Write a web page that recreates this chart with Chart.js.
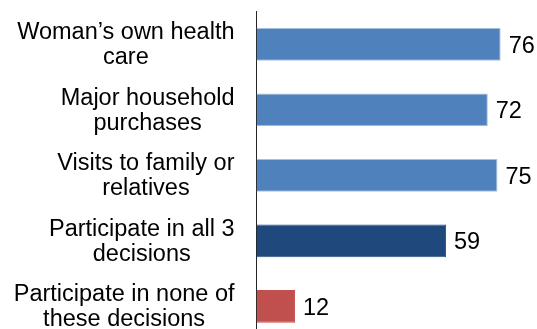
<!DOCTYPE html>
<html>
<head>
<meta charset="utf-8">
<script src="https://cdn.jsdelivr.net/npm/chart.js@4"></script>
<style>
  html, body { margin: 0; padding: 0; background: #fff; overflow: hidden; }
  #wrap { width: 537px; height: 340px; position: relative; }
</style>
</head>
<body>
<div id="wrap"><canvas id="mychart"></canvas></div>
<script>
const categories = [
    ['Woman\u2019s own health', 'care'],
    ['Major household', 'purchases'],
    ['Visits to family or', 'relatives'],
    ['Participate in all 3', 'decisions'],
    ['Participate in none of', 'these decisions']
]
const values = [76, 72, 75, 59, 12]
const barColors = ['#4F81BD', '#4F81BD', '#4F81BD', '#1F497D', '#C0504D']
const edgeColors = ['#A7BFDE', '#A7BFDE', '#A7BFDE', '#2C5486', '#C0504D']

const labelFont = '23.5px "Liberation Sans", Arial, sans-serif'

// category labels: block right aligned, lines centered inside the block
const catLabels = {
    id: 'catLabels',
    afterDraw(chart) {
        const ctx = chart.ctx
        const y = chart.scales.y
        const right = y.right - 22
        ctx.save()
        ctx.font = labelFont
        ctx.fillStyle = '#000'
        ctx.textAlign = 'center'
        ctx.textBaseline = 'middle'
        categories.forEach((lines, i) => {
            const cy = y.getPixelForValue(i) + 1
            const w = Math.max(...lines.map(l => ctx.measureText(l).width))
            const cx = right - w / 2
            const lh = 25
            lines.forEach((l, j) => {
                ctx.fillText(l, cx, cy + (j - (lines.length - 1) / 2) * lh)
            })
        })
        ctx.restore()
    }
}

// value labels next to the bars
const valueLabels = {
    id: 'valueLabels',
    afterDatasetsDraw(chart) {
        const ctx = chart.ctx
        const meta = chart.getDatasetMeta(0)
        ctx.save()
        ctx.font = labelFont
        ctx.fillStyle = '#000'
        ctx.textAlign = 'left'
        ctx.textBaseline = 'middle'
        meta.data.forEach((bar, i) => {
            ctx.fillText(values[i], bar.x + 8, bar.y + 2)
        })
        ctx.restore()
    }
}

const ctx = document.getElementById('mychart').getContext('2d')
const chart = new Chart(ctx, {
    type: 'bar',
    data: {
        labels: categories,
        datasets: [{
            data: values,
            backgroundColor: barColors,
            borderColor: edgeColors,
            borderWidth: 1,
            categoryPercentage: 0.5,
            barPercentage: 1
        }]
    },
    options: {
        indexAxis: 'y',
        responsive: true,
        maintainAspectRatio: false,
        animation: false,
        layout: { padding: { top: 11.5, bottom: 1, right: 23.5, left: 0 } },
        plugins: { legend: { display: false }, tooltip: { enabled: false } },
        scales: {
            x: { display: false, min: 0, max: 80 },
            y: {
                ticks: { display: false },
                grid: { display: false },
                border: { display: true, color: '#262626', width: 1 },
                afterFit(scale) { scale.width = 256.5 }
            }
        }
    },
    plugins: [catLabels, valueLabels]
})
</script>
</body>
</html>
